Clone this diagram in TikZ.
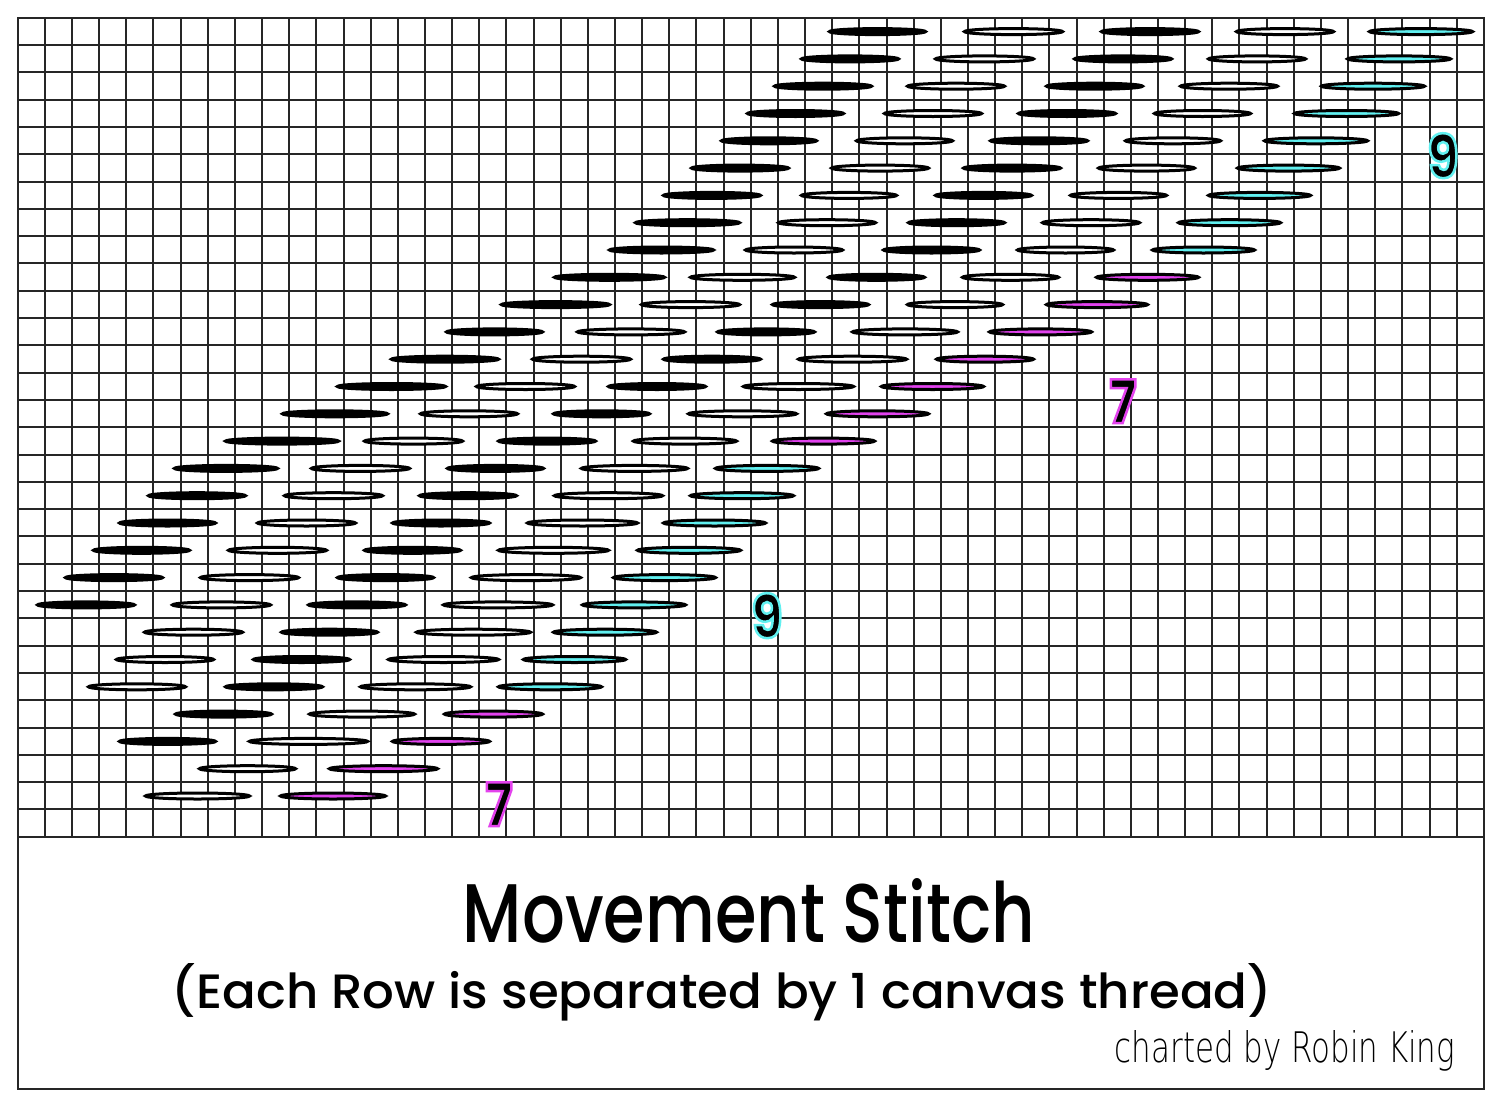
\documentclass[tikz,border=0pt]{standalone}
\usepackage{fontspec}
\setmainfont{Poppins}
\IfFontExistsTF{Poppins Medium}
  {\newfontfamily\titlefont{Poppins Medium}}
  {\newfontfamily\titlefont{Poppins}}
\IfFontExistsTF{DejaVu Sans ExtraLight}
  {\newfontfamily\handfont{DejaVu Sans ExtraLight}}
  {\newfontfamily\handfont{DejaVu Sans}}
\IfFontExistsTF{Poppins Bold}
  {\newfontfamily\digitfont{Poppins Bold}[FakeStretch=0.85]}
  {\newfontfamily\digitfont{Poppins}[FakeStretch=0.85,FakeBold=2]}
\definecolor{threadcyan}{RGB}{96,240,240}
\definecolor{threadpink}{RGB}{226,66,238}

% digit with a coloured rim (fill + stroke text)
\newcommand{\rimdigit}[2]{%
  \special{pdf:literal direct 2 Tr 2.5 w #1 RG}%
  {\digitfont\fontsize{60}{60}\selectfont #2}%
  \special{pdf:literal direct 0 Tr}}

\begin{document}
\begin{tikzpicture}[x=1pt,y=-1pt,
  canvas/.style={black!85,line width=2pt},
  blk/.style={fill=black,draw=black,line width=3pt},
  wht/.style={fill=white,draw=black,line width=3pt},
  cyn/.style={fill=threadcyan,draw=black,line width=3pt},
  mag/.style={fill=threadpink,draw=black,line width=3pt}]
\useasboundingbox (0,0) rectangle (1502,1106);
\fill[white] (0,0) rectangle (1502,1106);

% Canvas grid
\foreach \i in {0,...,54}
  \draw[canvas] ({17.7+27.15*\i},17.7) -- ({17.7+27.15*\i},836.7);
\foreach \j in {0,...,30}
  \draw[canvas] (17.7,{17.7+27.3*\j}) -- (1483.8,{17.7+27.3*\j});
\draw[canvas] (17.7,17.7) rectangle (1483.8,1089);


%Row 0
\foreach \a/\b/\s in {828/927/blk, 963/1064/wht, 1100/1200/blk, 1235/1335/wht, 1368/1474/cyn}
  \draw[\s] ({(\a+\b)/2},31.6) ellipse ({(\b-\a)/2-1.5} and 3);
%Row 1
\foreach \a/\b/\s in {800/900/blk, 934/1035/wht, 1073/1173/blk, 1207/1307/wht, 1346/1452/cyn}
  \draw[\s] ({(\a+\b)/2},58.9) ellipse ({(\b-\a)/2-1.5} and 3);
%Row 2
\foreach \a/\b/\s in {773/873/blk, 906/1006/wht, 1045/1144/blk, 1179/1279/wht, 1320/1426/cyn}
  \draw[\s] ({(\a+\b)/2},86.2) ellipse ({(\b-\a)/2-1.5} and 3);
%Row 3
\foreach \a/\b/\s in {746/845/blk, 883/983/wht, 1017/1117/blk, 1153/1252/wht, 1293/1400/cyn}
  \draw[\s] ({(\a+\b)/2},113.5) ellipse ({(\b-\a)/2-1.5} and 3);
%Row 4
\foreach \a/\b/\s in {720/818/blk, 855/954/wht, 989/1089/blk, 1124/1222/wht, 1263/1369/cyn}
  \draw[\s] ({(\a+\b)/2},140.8) ellipse ({(\b-\a)/2-1.5} and 3);
%Row 5
\foreach \a/\b/\s in {690/790/blk, 830/930/wht, 962/1062/blk, 1097/1196/wht, 1236/1341/cyn}
  \draw[\s] ({(\a+\b)/2},168.1) ellipse ({(\b-\a)/2-1.5} and 3);
%Row 6
\foreach \a/\b/\s in {662/762/blk, 800/898/wht, 934/1033/blk, 1069/1168/wht, 1207/1312/cyn}
  \draw[\s] ({(\a+\b)/2},195.4) ellipse ({(\b-\a)/2-1.5} and 3);
%Row 7
\foreach \a/\b/\s in {634/741/blk, 777/877/wht, 907/1006/blk, 1041/1141/wht, 1177/1282/cyn}
  \draw[\s] ({(\a+\b)/2},222.7) ellipse ({(\b-\a)/2-1.5} and 3);
%Row 8
\foreach \a/\b/\s in {608/715/blk, 744/844/wht, 882/981/blk, 1016/1115/wht, 1151/1256/cyn}
  \draw[\s] ({(\a+\b)/2},250) ellipse ({(\b-\a)/2-1.5} and 3);
%Row 9
\foreach \a/\b/\s in {553/666/blk, 689/796/wht, 827/926/blk, 961/1060/wht, 1095/1200/mag}
  \draw[\s] ({(\a+\b)/2},277.3) ellipse ({(\b-\a)/2-1.5} and 3);
%Row 10
\foreach \a/\b/\s in {500/611/blk, 640/741/wht, 771/870/blk, 906/1004/wht, 1045/1149/mag}
  \draw[\s] ({(\a+\b)/2},304.6) ellipse ({(\b-\a)/2-1.5} and 3);
%Row 11
\foreach \a/\b/\s in {445/544/blk, 576/686/wht, 716/816/blk, 851/959/wht, 988/1093/mag}
  \draw[\s] ({(\a+\b)/2},331.9) ellipse ({(\b-\a)/2-1.5} and 3);
%Row 12
\foreach \a/\b/\s in {390/500/blk, 531/632/wht, 662/762/blk, 797/908/wht, 935/1035/mag}
  \draw[\s] ({(\a+\b)/2},359.2) ellipse ({(\b-\a)/2-1.5} and 3);
%Row 13
\foreach \a/\b/\s in {336/447/blk, 475/576/wht, 607/707/blk, 742/855/wht, 880/985/mag}
  \draw[\s] ({(\a+\b)/2},386.5) ellipse ({(\b-\a)/2-1.5} and 3);
%Row 14
\foreach \a/\b/\s in {281/389/blk, 419/519/wht, 552/651/blk, 687/798/wht, 825/930/mag}
  \draw[\s] ({(\a+\b)/2},413.8) ellipse ({(\b-\a)/2-1.5} and 3);
%Row 15
\foreach \a/\b/\s in {224/340/blk, 363/464/wht, 497/597/blk, 632/738/wht, 771/876/mag}
  \draw[\s] ({(\a+\b)/2},441.1) ellipse ({(\b-\a)/2-1.5} and 3);
%Row 16
\foreach \a/\b/\s in {173/279/blk, 310/411/wht, 446/545/blk, 580/689/wht, 714/820/cyn}
  \draw[\s] ({(\a+\b)/2},468.4) ellipse ({(\b-\a)/2-1.5} and 3);
%Row 17
\foreach \a/\b/\s in {147/247/blk, 283/384/wht, 418/518/blk, 553/664/wht, 689/795/cyn}
  \draw[\s] ({(\a+\b)/2},495.7) ellipse ({(\b-\a)/2-1.5} and 3);
%Row 18
\foreach \a/\b/\s in {118/217/blk, 256/357/wht, 391/491/blk, 526/639/wht, 662/767/cyn}
  \draw[\s] ({(\a+\b)/2},523) ellipse ({(\b-\a)/2-1.5} and 3);
%Row 19
\foreach \a/\b/\s in {92/191/blk, 227/328/wht, 363/462/blk, 497/610/wht, 636/742/cyn}
  \draw[\s] ({(\a+\b)/2},550.3) ellipse ({(\b-\a)/2-1.5} and 3);
%Row 20
\foreach \a/\b/\s in {64/164/blk, 199/300/wht, 336/435/blk, 470/582/wht, 612/717/cyn}
  \draw[\s] ({(\a+\b)/2},577.6) ellipse ({(\b-\a)/2-1.5} and 3);
%Row 21
\foreach \a/\b/\s in {36/136/blk, 171/272/wht, 307/407/blk, 442/554/wht, 581/687/cyn}
  \draw[\s] ({(\a+\b)/2},604.9) ellipse ({(\b-\a)/2-1.5} and 3);
%Row 22
\foreach \a/\b/\s in {143/244/wht, 280/379/blk, 415/532/wht, 552/658/cyn}
  \draw[\s] ({(\a+\b)/2},632.2) ellipse ({(\b-\a)/2-1.5} and 3);
%Row 23
\foreach \a/\b/\s in {115/215/wht, 252/351/blk, 387/500/wht, 522/627/cyn}
  \draw[\s] ({(\a+\b)/2},659.5) ellipse ({(\b-\a)/2-1.5} and 3);
%Row 24
\foreach \a/\b/\s in {87/187/wht, 224/324/blk, 359/472/wht, 497/603/cyn}
  \draw[\s] ({(\a+\b)/2},686.8) ellipse ({(\b-\a)/2-1.5} and 3);
%Row 25
\foreach \a/\b/\s in {174/273/blk, 308/416/wht, 443/544/mag}
  \draw[\s] ({(\a+\b)/2},714.1) ellipse ({(\b-\a)/2-1.5} and 3);
%Row 26
\foreach \a/\b/\s in {118/217/blk, 248/369/wht, 391/491/mag}
  \draw[\s] ({(\a+\b)/2},741.4) ellipse ({(\b-\a)/2-1.5} and 3);
%Row 27
\foreach \a/\b/\s in {198/297/wht, 328/439/mag}
  \draw[\s] ({(\a+\b)/2},768.7) ellipse ({(\b-\a)/2-1.5} and 3);
%Row 28
\foreach \a/\b/\s in {144/251/wht, 279/387/mag}
  \draw[\s] ({(\a+\b)/2},796) ellipse ({(\b-\a)/2-1.5} and 3);


% Thread counts
\node[anchor=base,inner sep=0pt] (nineTop) at (1443,178) {\rimdigit{0.38 0.94 0.94}{9}};
\node[anchor=base,inner sep=0pt] (sevenTop) at (1123,423) {\rimdigit{0.89 0.26 0.93}{7}};
\node[anchor=base,inner sep=0pt] (nineLow) at (767,638) {\rimdigit{0.38 0.94 0.94}{9}};
\node[anchor=base,inner sep=0pt] (sevenLow) at (499,826) {\rimdigit{0.89 0.26 0.93}{7}};

% Title block
\node[anchor=base,inner sep=0pt] (title) at (749,942)
  {\resizebox{572pt}{64pt}{\titlefont\fontsize{60}{60}\selectfont Movement Stitch}};
\node[anchor=base,inner sep=0pt] (subtitle) at (722,1008)
  {\resizebox{1100pt}{45pt}{\titlefont\fontsize{40}{40}\selectfont (Each Row is separated by 1 canvas thread)}};
\node[anchor=base,inner sep=0pt] (credit) at (1285,1062)
  {\resizebox{340pt}{32pt}{\handfont charted by Robin King}};

\end{tikzpicture}
\end{document}
